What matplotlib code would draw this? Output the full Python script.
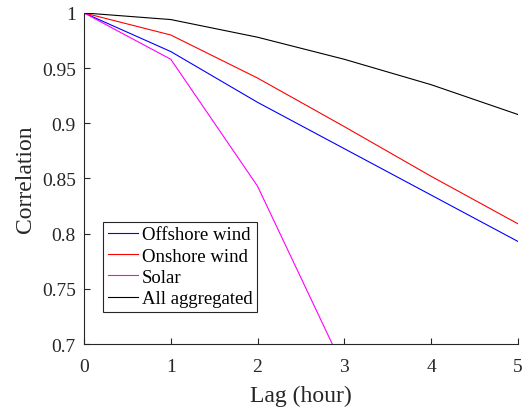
import numpy as np
import matplotlib.pyplot as plt

# Datos (correlacion frente al desfase en horas)
lag = [0, 1, 2, 3, 4, 5]
offshore = [1.0, 0.965, 0.919, 0.877, 0.835, 0.793]
onshore = [1.0, 0.980, 0.941, 0.897, 0.852, 0.809]
solar = [1.0, 0.958, 0.843, 0.677, 0.50, 0.35]
aggregated = [1.0, 0.994, 0.978, 0.958, 0.935, 0.908]

plt.rcParams['font.family'] = ['Liberation Serif', 'DejaVu Serif']

fig = plt.figure(figsize=(5.22, 4.10), dpi=100)
ax = fig.add_axes([0.161, 0.1585, 0.831, 0.8075])

ax.plot(lag, offshore, color='#0000ff', linewidth=0.8, label='Offshore wind')
ax.plot(lag, onshore, color='#ff0000', linewidth=0.8, label='Onshore wind')
ax.plot(lag, solar, color='#ff00ff', linewidth=0.8, label='Solar')
ax.plot(lag, aggregated, color='#000000', linewidth=0.8, label='All aggregated')

ax.set_xlim(0, 5)
ax.set_ylim(0.7, 1)
ax.set_xticks(range(6))
ax.set_yticks([0.7, 0.75, 0.8, 0.85, 0.9, 0.95, 1])
ax.set_yticklabels(['0.7', '0.75', '0.8', '0.85', '0.9', '0.95', '1'])

gris = '#262626'
for lado in ['top', 'right']:
    ax.spines[lado].set_visible(False)
for lado in ['left', 'bottom']:
    ax.spines[lado].set_color(gris)
    ax.spines[lado].set_linewidth(0.8)
ax.tick_params(direction='in', length=4, width=0.8, colors=gris, labelsize=14)
ax.tick_params(axis='x', pad=10)
ax.tick_params(axis='y', pad=6)

ax.set_xlabel('Lag (hour)', fontsize=17, color=gris, labelpad=7)
ax.set_ylabel('Correlation', fontsize=17, color=gris, labelpad=4)

leg = ax.legend(loc='lower left', bbox_to_anchor=(0.044, 0.097), borderaxespad=0,
                fontsize=13.5, fancybox=False, framealpha=1, edgecolor=gris,
                handlelength=1.6, handletextpad=0.2, labelspacing=0.22,
                borderpad=0.25)
leg.get_frame().set_linewidth(0.8)

fig.savefig('out.png', dpi=100)
